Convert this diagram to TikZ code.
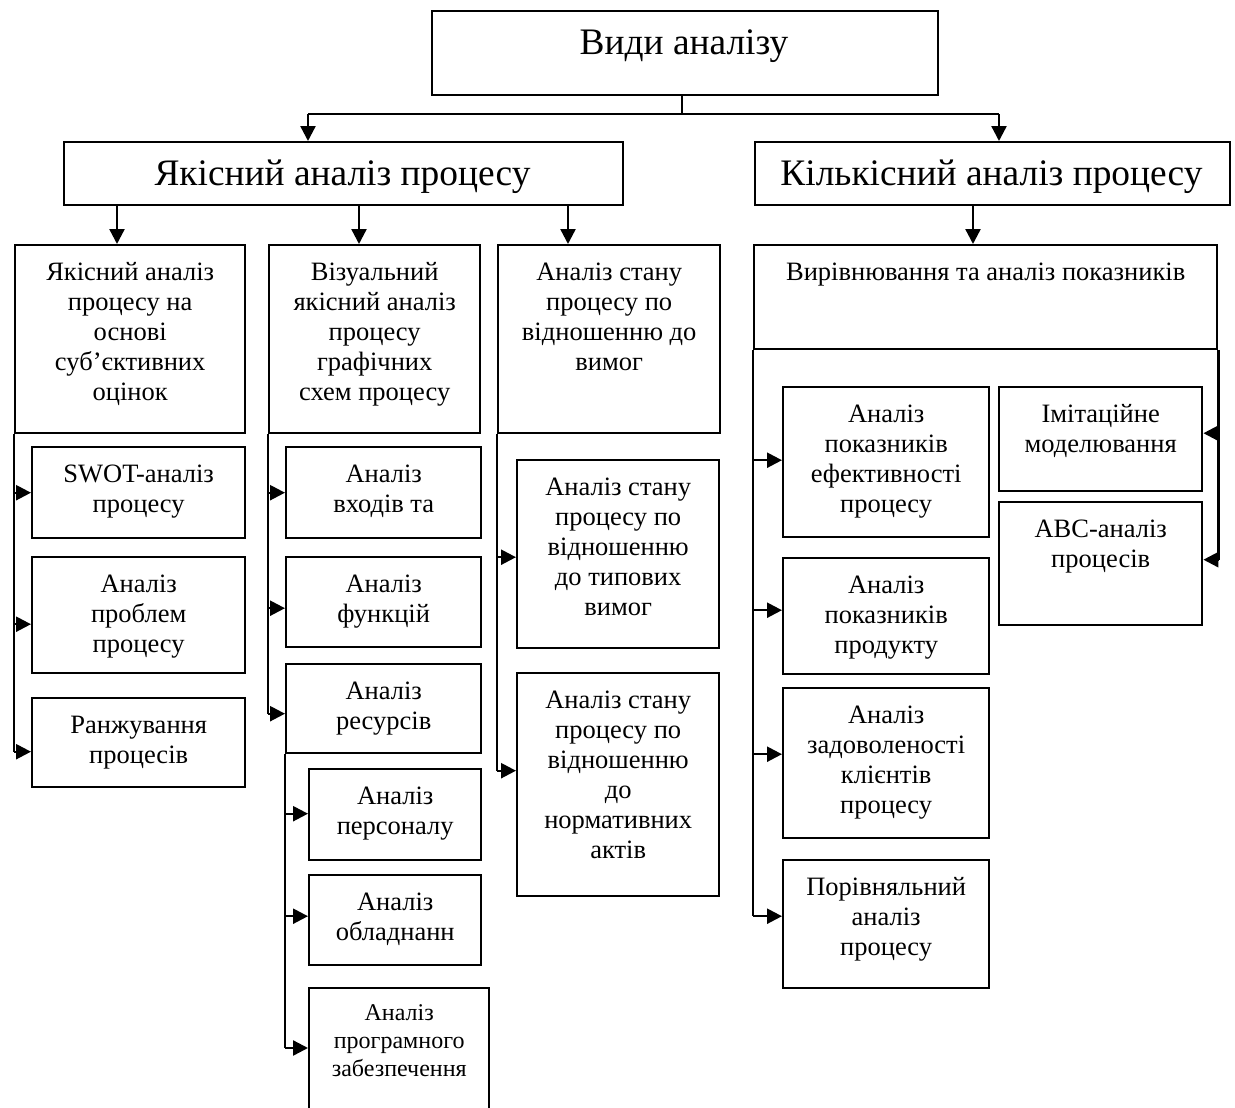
\documentclass[tikz,border=0pt]{standalone}
\usepackage{fontspec}
\setmainfont{Liberation Serif}
\usetikzlibrary{arrows.meta}
\newcommand\mybox[5]{\node[box,minimum width={#4-#2},minimum height={#5-#3}] (#1) at (#2,#3) {};}
\begin{document}
\begin{tikzpicture}[x=1pt,y=-1pt,
  box/.style={draw,line width=2.4pt,inner sep=0pt,anchor=north west},
  txt/.style={align=center,inner sep=0pt,anchor=north,yshift=-15pt,font=\fontsize{26.5}{30}\selectfont},
  stxt/.style={align=center,inner sep=0pt,anchor=north,yshift=-13.5pt,font=\fontsize{24}{28}\selectfont},
  big/.style={inner sep=0pt,anchor=base,font=\fontsize{37.4}{42}\selectfont},
  ln/.style={line width=2.4pt},
  arr/.style={line width=2.4pt,-{Triangle[length=15pt,width=15pt]}}]
\useasboundingbox (0,0) rectangle (1235,1108);
\clip (0,0) rectangle (1235,1108);

% top level
\mybox{vid}{431}{10}{937}{94}
\node[big] (vidt) at (684,55) {Види аналізу};
\mybox{yak}{63}{141}{622}{204}
\node[big] (yakt) at (342.5,185) {Якісний аналіз процесу};
\mybox{kil}{754}{141}{1229}{204}
\node[big] (kilt) at (991.5,185) {Кількісний аналіз процесу};

% column headers
\mybox{h1}{14}{244}{244}{432}
\node[txt] (h1t) at (h1.north) {\strut Якісний аналіз\\процесу на\\основі\\суб’єктивних\\оцінок};
\mybox{h2}{268}{244}{479}{432}
\node[txt] (h2t) at (h2.north) {\strut Візуальний\\якісний аналіз\\процесу\\графічних\\схем процесу};
\mybox{h3}{497}{244}{719}{432}
\node[txt] (h3t) at (h3.north) {\strut Аналіз стану\\процесу по\\відношенню до\\вимог};
\mybox{h4}{753}{244}{1216}{348}
\node[txt] (h4t) at (h4.north) {\strut Вирівнювання та аналіз показників};

% column 1
\mybox{sw}{31}{446}{244}{537}
\node[txt] (swt) at (sw.north) {\strut SWOT-аналіз\\процесу};
\mybox{pb}{31}{556}{244}{672}
\node[txt] (pbt) at (pb.north) {\strut Аналіз\\проблем\\процесу};
\mybox{rj}{31}{697}{244}{786}
\node[txt] (rjt) at (rj.north) {\strut Ранжування\\процесів};

% column 2
\mybox{vh}{285}{446}{480}{537}
\node[txt] (vht) at (vh.north) {\strut Аналіз\\входів та};
\mybox{fn}{285}{556}{480}{646}
\node[txt] (fnt) at (fn.north) {\strut Аналіз\\функцій};
\mybox{rs}{285}{663}{480}{752}
\node[txt] (rst) at (rs.north) {\strut Аналіз\\ресурсів};
\mybox{ps}{308}{768}{480}{859}
\node[txt] (pst) at (ps.north) {\strut Аналіз\\персоналу};
\mybox{ob}{308}{874}{480}{964}
\node[txt] (obt) at (ob.north) {\strut Аналіз\\обладнанн};
\mybox{pg}{308}{987}{488}{1130}
\node[stxt] (pgt) at (pg.north) {\strut Аналіз\\програмного\\забезпечення};

% column 3
\mybox{tv}{516}{459}{718}{647}
\node[txt] (tvt) at (tv.north) {\strut Аналіз стану\\процесу по\\відношенню\\до типових\\вимог};
\mybox{na}{516}{672}{718}{895}
\node[txt] (nat) at (na.north) {\strut Аналіз стану\\процесу по\\відношенню\\до\\нормативних\\актів};

% column 4
\mybox{ef}{782}{386}{988}{536}
\node[txt] (eft) at (ef.north) {\strut Аналіз\\показників\\ефективності\\процесу};
\mybox{pr}{782}{557}{988}{673}
\node[txt] (prt) at (pr.north) {\strut Аналіз\\показників\\продукту};
\mybox{zd}{782}{687}{988}{837}
\node[txt] (zdt) at (zd.north) {\strut Аналіз\\задоволеності\\клієнтів\\процесу};
\mybox{pv}{782}{859}{988}{987}
\node[txt] (pvt) at (pv.north) {\strut Порівняльний\\аналіз\\процесу};
\mybox{im}{998}{386}{1201}{490}
\node[txt] (imt) at (im.north) {\strut Імітаційне\\моделювання};
\mybox{abc}{998}{501}{1201}{624}
\node[txt] (abct) at (abc.north) {\strut ABC-аналіз\\процесів};

% top connectors
\coordinate (j0) at (682,114);
\coordinate (jl) at (308,114);
\coordinate (jr) at (999,114);
\draw[ln] (vid.south -| j0) -- (j0);
\draw[ln] (jl) -- (jr);
\draw[arr] (jl) -- (yak.north -| jl);
\draw[arr] (jr) -- (kil.north -| jr);

\coordinate (xa) at (117,0);
\coordinate (xb) at (359,0);
\coordinate (xc) at (568,0);
\coordinate (xd) at (973,0);
\draw[arr] (yak.south -| xa) -- (h1.north -| xa);
\draw[arr] (yak.south -| xb) -- (h2.north -| xb);
\draw[arr] (yak.south -| xc) -- (h3.north -| xc);
\draw[arr] (kil.south -| xd) -- (h4.north -| xd);

% column 1 bus
\coordinate (e1) at ([yshift=-9pt]rj.west -| h1.west);
\draw[ln] (h1.south west) -- (e1);
\draw[arr] (sw.west -| h1.west) -- (sw.west);
\draw[arr] ([yshift=-9pt]pb.west -| h1.west) -- ([yshift=-9pt]pb.west);
\draw[arr] (e1) -- ([yshift=-9pt]rj.west);

% column 2 bus
\coordinate (e2) at ([yshift=-5pt]rs.west -| h2.west);
\draw[ln] (h2.south west) -- (e2);
\draw[arr] (vh.west -| h2.west) -- (vh.west);
\draw[arr] ([yshift=-6pt]fn.west -| h2.west) -- ([yshift=-6pt]fn.west);
\draw[arr] (e2) -- ([yshift=-5pt]rs.west);

% resources sub bus
\coordinate (e3) at ([yshift=-61pt]pg.north west -| rs.west);
\draw[ln] (rs.south west) -- (e3);
\draw[arr] ([yshift=1pt]ps.west -| rs.west) -- ([yshift=1pt]ps.west);
\draw[arr] ([yshift=4pt]ob.west -| rs.west) -- ([yshift=4pt]ob.west);
\draw[arr] (e3) -- ([yshift=-61pt]pg.north west);

% column 3 bus
\coordinate (e4) at ([yshift=14pt]na.west -| h3.west);
\draw[ln] (h3.south west) -- (e4);
\draw[arr] ([yshift=-3pt]tv.west -| h3.west) -- ([yshift=-3pt]tv.west);
\draw[arr] (e4) -- ([yshift=14pt]na.west);

% column 4 left bus
\coordinate (e5) at ([yshift=8pt]pv.west -| h4.west);
\draw[ln] (h4.south west) -- (e5);
\draw[arr] ([yshift=2pt]ef.west -| h4.west) -- ([yshift=2pt]ef.west);
\draw[arr] ([yshift=6pt]pr.west -| h4.west) -- ([yshift=6pt]pr.west);
\draw[arr] ([yshift=9pt]zd.west -| h4.west) -- ([yshift=9pt]zd.west);
\draw[arr] (e5) -- ([yshift=8pt]pv.west);

% column 4 right bus
\coordinate (e6) at ([yshift=4pt]abc.east -| h4.east);
\draw[ln] (h4.south east) -- (e6);
\draw[arr] ([yshift=6pt]im.east -| h4.east) -- ([yshift=6pt]im.east);
\draw[arr] (e6) -- ([yshift=4pt]abc.east);
\end{tikzpicture}
\end{document}
